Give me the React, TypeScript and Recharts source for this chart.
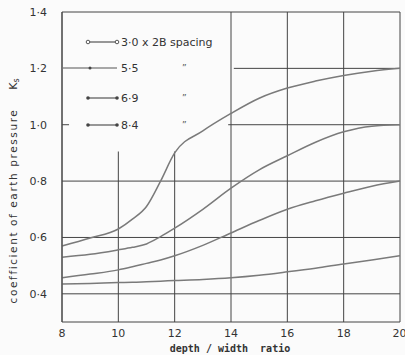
import React from "react";
import {
  LineChart,
  Line,
  XAxis,
  YAxis,
  CartesianGrid,
  ReferenceLine,
} from "recharts";

// depth / width ratio
const depthRatio = [8, 9, 10, 10.5, 11, 11.5, 12, 13, 14, 15, 16, 17, 18, 19, 20];

// coefficient of earth pressure Ks, one list per pile spacing
const spacing30 = [0.57, 0.598, 0.63, 0.665, 0.71, 0.8, 0.9, 0.978, 1.04, 1.094, 1.13, 1.155, 1.175, 1.19, 1.2];
const spacing55 = [0.53, 0.54, 0.556, 0.565, 0.577, 0.603, 0.633, 0.7, 0.775, 0.84, 0.89, 0.938, 0.975, 0.995, 1.0];
const spacing69 = [0.457, 0.47, 0.485, 0.496, 0.508, 0.52, 0.535, 0.572, 0.616, 0.66, 0.7, 0.73, 0.757, 0.782, 0.8];
const spacing84 = [0.435, 0.437, 0.44, 0.441, 0.443, 0.445, 0.447, 0.451, 0.457, 0.466, 0.478, 0.491, 0.506, 0.52, 0.535];

const xTicks = [8, 10, 12, 14, 16, 18, 20];
const yTicks = [0.4, 0.6, 0.8, 1.0, 1.2, 1.4];

// grid lines that run the full plot; the rest stop short of the key
const fullX = [8, 14, 16, 18, 20];
const fullY = [0.4, 0.6, 0.8, 1.4];

const legendLabels = ["3·0 x 2B spacing", "5·5", "6·9", "8·4"];

const data = depthRatio.map((d, i) => ({
  d,
  s30: spacing30[i],
  s55: spacing55[i],
  s69: spacing69[i],
  s84: spacing84[i],
}));

const curveColor = "#7a7a7a";
const gridColor = "#444";
const textColor = "#333";
const font = "'DejaVu Sans', sans-serif";

const fmtY = (v: number) => v.toFixed(1).replace(".", "·");

const LegendBox = () => {
  const rows = [42, 68, 98, 125];
  return (
    <g>
      {rows.map((y, i) => (
        <g key={i}>
          <line
            x1={i === 1 ? 63 : 88}
            x2={117}
            y1={y}
            y2={y}
            stroke="#555"
            strokeWidth={1.2}
          />
          {i === 0 ? (
            <>
              <circle cx={88} cy={y} r={1.8} fill="#fff" stroke="#555" />
              <circle cx={117} cy={y} r={1.8} fill="#fff" stroke="#555" />
            </>
          ) : i === 1 ? (
            <circle cx={90} cy={y} r={1.5} fill="#444" />
          ) : (
            <>
              <circle cx={88} cy={y} r={1.8} fill="#444" />
              <circle cx={117} cy={y} r={1.8} fill="#444" />
            </>
          )}
          <text
            x={121}
            y={y}
            dy="0.35em"
            fontSize={11}
            fontFamily={font}
            fill={textColor}
          >
            {legendLabels[i]}
          </text>
          {i > 0 && (
            <text
              x={182}
              y={y}
              dy="0.35em"
              fontSize={9}
              fontFamily={font}
              fill="#555"
            >
              {"\u201D"}
            </text>
          )}
        </g>
      ))}
    </g>
  );
};

const AxisTitles = () => (
  <g fill={textColor} fontFamily={font}>
    <text
      x={13}
      y={206}
      transform="rotate(-90 13 206)"
      textAnchor="middle"
      dominantBaseline="central"
      fontSize={10.5}
      letterSpacing={1.6}
    >
      coefficient of earth pressure
    </text>
    <text
      x={13}
      y={84}
      transform="rotate(-90 13 84)"
      textAnchor="middle"
      dominantBaseline="central"
      fontSize={11}
    >
      K<tspan fontSize={8} dy={3}>s</tspan>
    </text>
    <text
      x={230}
      y={348}
      textAnchor="middle"
      dominantBaseline="central"
      fontSize={10}
      fontWeight="bold"
      fontFamily="'DejaVu Sans Mono', monospace"
      xmlSpace="preserve"
    >
      {"depth / width  ratio"}
    </text>
  </g>
);

export default function App() {
  return (
    <div
      style={{
        position: "absolute",
        left: 0,
        top: 0,
        width: 405,
        height: 355,
        background: "#fbfbfb",
      }}
    >
      <LineChart
        width={405}
        height={355}
        data={data}
        margin={{ top: 12, right: 5, left: 12, bottom: 3 }}
      >
        <CartesianGrid
          stroke={gridColor}
          strokeWidth={1}
          horizontalValues={fullY}
          verticalValues={fullX}
        />
        <XAxis
          dataKey="d"
          type="number"
          domain={[8, 20]}
          ticks={xTicks}
          height={30}
          tickSize={0}
          tickMargin={7}
          axisLine={{ stroke: gridColor }}
          tick={{ fontSize: 11, fill: textColor, fontFamily: font }}
        />
        <YAxis
          type="number"
          domain={[0.3, 1.4]}
          ticks={yTicks}
          width={50}
          tickSize={0}
          tickMargin={15}
          tickFormatter={fmtY}
          axisLine={{ stroke: gridColor }}
          tick={{ fontSize: 11, fill: textColor, fontFamily: font }}
        />
        <ReferenceLine
          segment={[{ x: 14.1, y: 1.2 }, { x: 20, y: 1.2 }]}
          stroke={gridColor}
        />
        <ReferenceLine
          segment={[{ x: 13.9, y: 1.0 }, { x: 20, y: 1.0 }]}
          stroke={gridColor}
        />
        <ReferenceLine
          segment={[{ x: 8, y: 1.0 }, { x: 8.25, y: 1.0 }]}
          stroke={gridColor}
        />
        <ReferenceLine
          segment={[{ x: 10, y: 0.3 }, { x: 10, y: 0.905 }]}
          stroke={gridColor}
        />
        <ReferenceLine
          segment={[{ x: 12, y: 0.3 }, { x: 12, y: 0.905 }]}
          stroke={gridColor}
        />
        <LegendBox />
        <Line
          type="monotone"
          dataKey="s30"
          stroke={curveColor}
          strokeWidth={1.5}
          dot={false}
          isAnimationActive={false}
        />
        <Line
          type="monotone"
          dataKey="s55"
          stroke={curveColor}
          strokeWidth={1.5}
          dot={false}
          isAnimationActive={false}
        />
        <Line
          type="monotone"
          dataKey="s69"
          stroke={curveColor}
          strokeWidth={1.5}
          dot={false}
          isAnimationActive={false}
        />
        <Line
          type="monotone"
          dataKey="s84"
          stroke={curveColor}
          strokeWidth={1.5}
          dot={false}
          isAnimationActive={false}
        />
        <AxisTitles />
      </LineChart>
    </div>
  );
}
